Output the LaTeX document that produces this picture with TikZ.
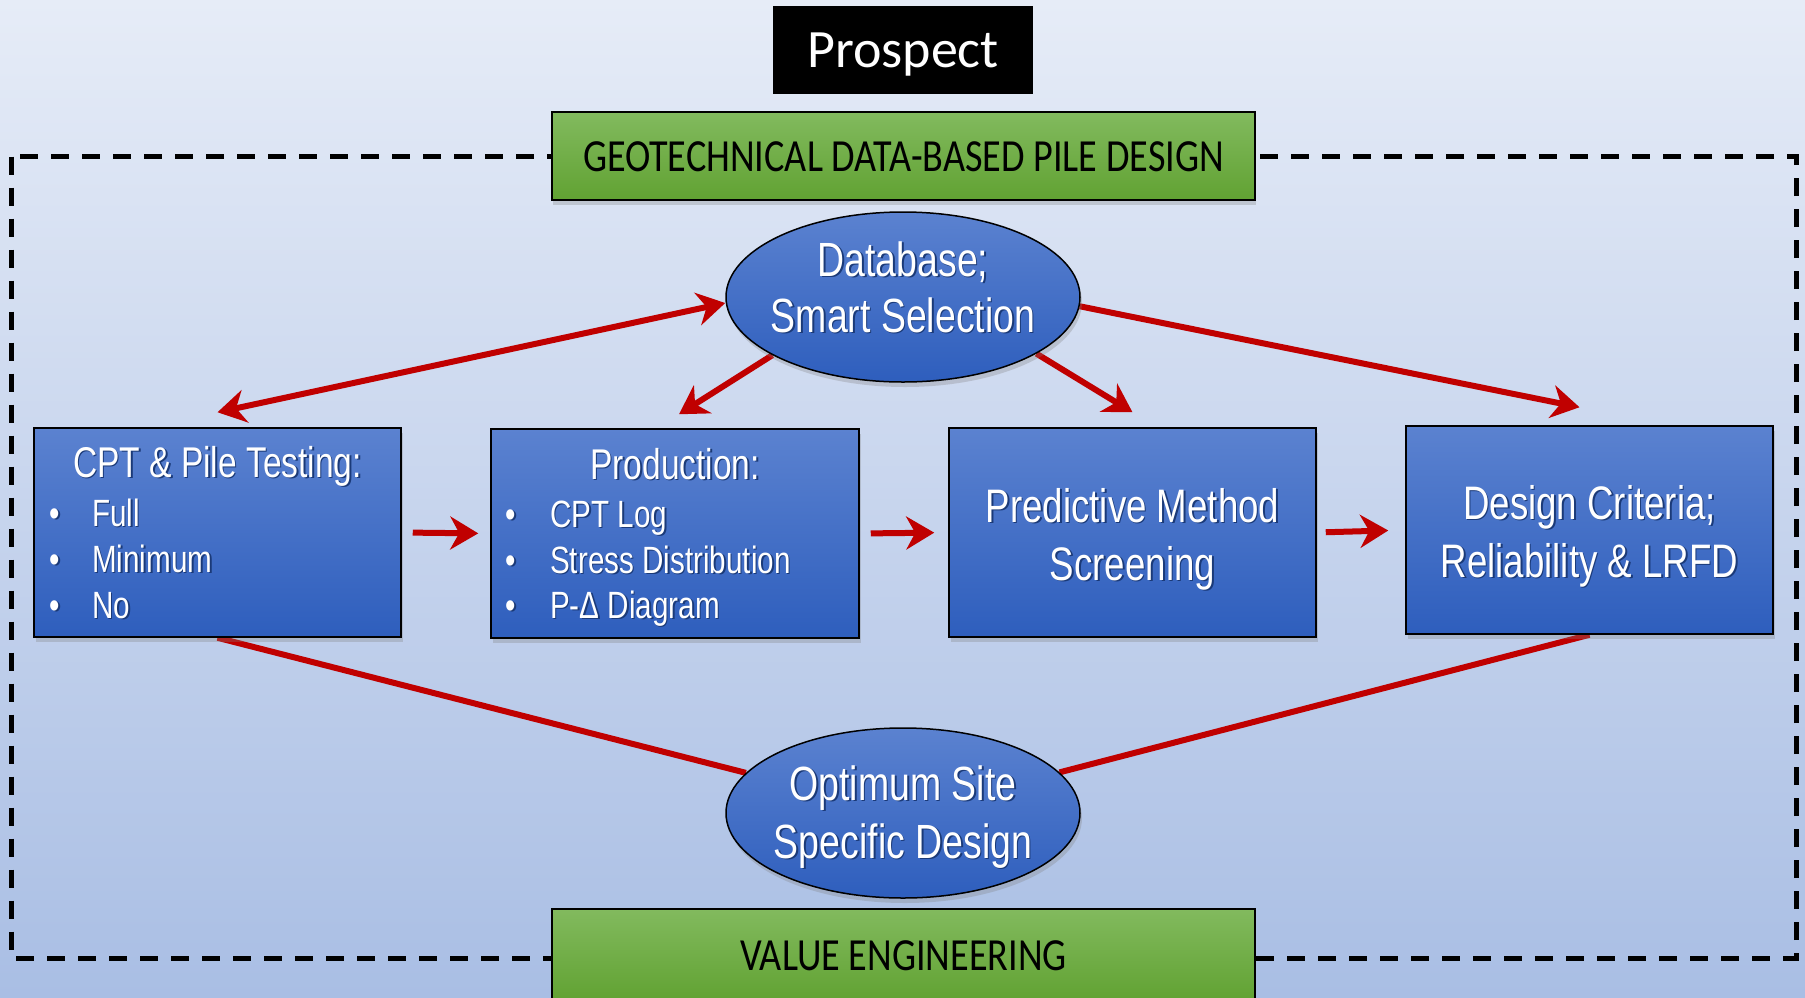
\documentclass[tikz,border=0pt]{standalone}
\usepackage{fontspec}
\setmainfont{Liberation Sans}
\newfontfamily\narrowfont[FakeStretch=0.78]{Liberation Sans}
\newfontfamily\calfont{Carlito}
\newfontfamily\calnarrow[FakeStretch=0.83]{Carlito}
\usetikzlibrary{shapes.geometric,arrows.meta,shadows}
\definecolor{bgtop}{HTML}{E6ECF7}
\definecolor{bgbot}{HTML}{A9BEE4}
\definecolor{bluetop}{HTML}{5B82D0}
\definecolor{bluebot}{HTML}{2E5EBD}
\definecolor{greentop}{HTML}{82BA5E}
\definecolor{greenbot}{HTML}{61A232}
\definecolor{arrowred}{HTML}{C00000}
\definecolor{txtshadow}{HTML}{1B3A78}
\newcommand\shd[1]{\leavevmode\rlap{\kern1.6pt\raisebox{-1.6pt}{\textcolor{txtshadow}{#1}}}#1}
\pgfdeclarelayer{bg}
\pgfdeclarelayer{lines}
\pgfsetlayers{bg,lines,main}
\begin{document}
\begin{tikzpicture}[x=1pt,y=-1pt,
  bluebox/.style={rectangle, draw=black, line width=1.5pt, top color=bluetop, bottom color=bluebot,
    minimum width=367pt, minimum height=209pt, inner sep=0pt,
    drop shadow={shadow xshift=2pt,shadow yshift=-5pt,opacity=0.3}},
  blueell/.style={ellipse, draw=black, line width=1.5pt, top color=bluetop, bottom color=bluebot,
    minimum width=354pt, minimum height=170pt, inner sep=0pt,
    drop shadow={shadow xshift=2pt,shadow yshift=-5pt,opacity=0.3}},
  greenbox/.style={rectangle, draw=black, line width=2pt, top color=greentop, bottom color=greenbot,
    inner sep=0pt, text height=30pt, text depth=0pt, font=\calnarrow\fontsize{46}{46}\selectfont,
    drop shadow={shadow xshift=1pt,shadow yshift=-5pt,opacity=0.3}},
  wtxt/.style={text=white, inner sep=0pt, anchor=base},
  titletxt/.style={wtxt, font=\narrowfont\fontsize{43}{43}\selectfont},
  itemtxt/.style={wtxt, anchor=base west, font=\narrowfont\fontsize{38}{38}\selectfont},
  bullettxt/.style={wtxt, font=\narrowfont\fontsize{38}{38}\selectfont},
  bigtxt/.style={wtxt, font=\narrowfont\fontsize{47}{47}\selectfont},
  elltxt/.style={wtxt, font=\narrowfont\fontsize{48}{48}\selectfont},
  redline/.style={draw=arrowred, line width=6pt},
  redarrow/.style={redline, -{Stealth[length=28pt,width=33pt,inset=9pt]}},
  dblarrow/.style={redline, {Stealth[length=28pt,width=33pt,inset=9pt]}-{Stealth[length=28pt,width=33pt,inset=9pt]}},
]
\begin{pgfonlayer}{bg}
  \shade[top color=bgtop, bottom color=bgbot] (0,0) rectangle (1805,997);
  \draw[black, line width=5pt, dash pattern=on 18pt off 13pt] (11.5,156.5) rectangle (1796,958);
\end{pgfonlayer}
\path[use as bounding box] (0,0) rectangle (1805,997);

% title
\node[fill=black, minimum width=260pt, minimum height=88pt, inner sep=0pt, text=white,
  text height=35pt, text depth=0pt, font=\calfont\fontsize{54}{54}\selectfont] (prospect) at (903,50) {Prospect};

% green banners
\node[greenbox, minimum width=703pt, minimum height=88pt] (geo) at (903.5,156) {GEOTECHNICAL DATA-BASED PILE DESIGN};
\node[greenbox, minimum width=703pt, minimum height=92pt] (value) at (903.5,955) {VALUE ENGINEERING};

% ellipses
\node[blueell] (db) at (903,297) {};
\node[blueell] (opt) at (903,813) {};

% boxes
\node[bluebox] (box1) at (217.5,532.5) {};
\node[bluebox, minimum width=368pt] (box2) at (675,533.5) {};
\node[bluebox] (box3) at (1132.5,532.5) {};
\node[bluebox, minimum height=208pt] (box4) at (1589.5,530) {};

% texts
\node[elltxt] (dbA) at (903,276) {\shd{Database;}};
\node[elltxt] (dbB) at (903,332) {\shd{Smart Selection}};
\node[elltxt] (optA) at (903,800) {\shd{Optimum Site}};
\node[elltxt] (optB) at (903,858) {\shd{Specific Design}};

\node[titletxt] (b1t) at (217.5,477) {\shd{CPT \& Pile Testing:}};
\node[bullettxt] (b1p1) at (55,526) {\shd{•}};
\node[bullettxt] (b1p2) at (55,572) {\shd{•}};
\node[bullettxt] (b1p3) at (55,618) {\shd{•}};
\node[itemtxt] (b1i1) at (92,526) {\shd{Full}};
\node[itemtxt] (b1i2) at (92,572) {\shd{Minimum}};
\node[itemtxt] (b1i3) at (92,618) {\shd{No}};

\node[titletxt] (b2t) at (675,479) {\shd{Production:}};
\node[bullettxt] (b2p1) at (511,527) {\shd{•}};
\node[bullettxt] (b2p2) at (511,573) {\shd{•}};
\node[bullettxt] (b2p3) at (511,618) {\shd{•}};
\node[itemtxt] (b2i1) at (550,527) {\shd{CPT Log}};
\node[itemtxt] (b2i2) at (550,573) {\shd{Stress Distribution}};
\node[itemtxt] (b2i3) at (550,618) {\shd{P-Δ Diagram}};

\node[bigtxt] (b3a) at (1132.5,522) {\shd{Predictive Method}};
\node[bigtxt] (b3b) at (1132.5,580) {\shd{Screening}};
\node[bigtxt] (b4a) at (1589.5,519) {\shd{Design Criteria;}};
\node[bigtxt] (b4b) at (1589.5,577) {\shd{Reliability \& LRFD}};

% connectors
\begin{pgfonlayer}{lines}
  \draw[redarrow, shorten <=11pt, shorten >=12pt] (box1.east) -- (box2.west);
  \draw[redarrow, shorten <=11pt, shorten >=14pt] (box2.east) -- (box3.west);
  \draw[redarrow, shorten <=9pt, shorten >=17pt] (box3.east) -- (box4.west);
  \draw[dblarrow] ([yshift=15pt]box1.north) -- ([yshift=-6pt]db.west);
  \draw[redarrow] (db.204) -- ([xshift=4pt,yshift=14pt]box2.north);
  \draw[redarrow] (db.-23) -- ([yshift=15pt]box3.north);
  \draw[redarrow] (db.-3) -- ([xshift=-10pt,yshift=18pt]box4.north);
  \draw[redline] (box1.south) -- (opt);
  \draw[redline] (box4.south) -- (opt);
\end{pgfonlayer}
\end{tikzpicture}
\end{document}
